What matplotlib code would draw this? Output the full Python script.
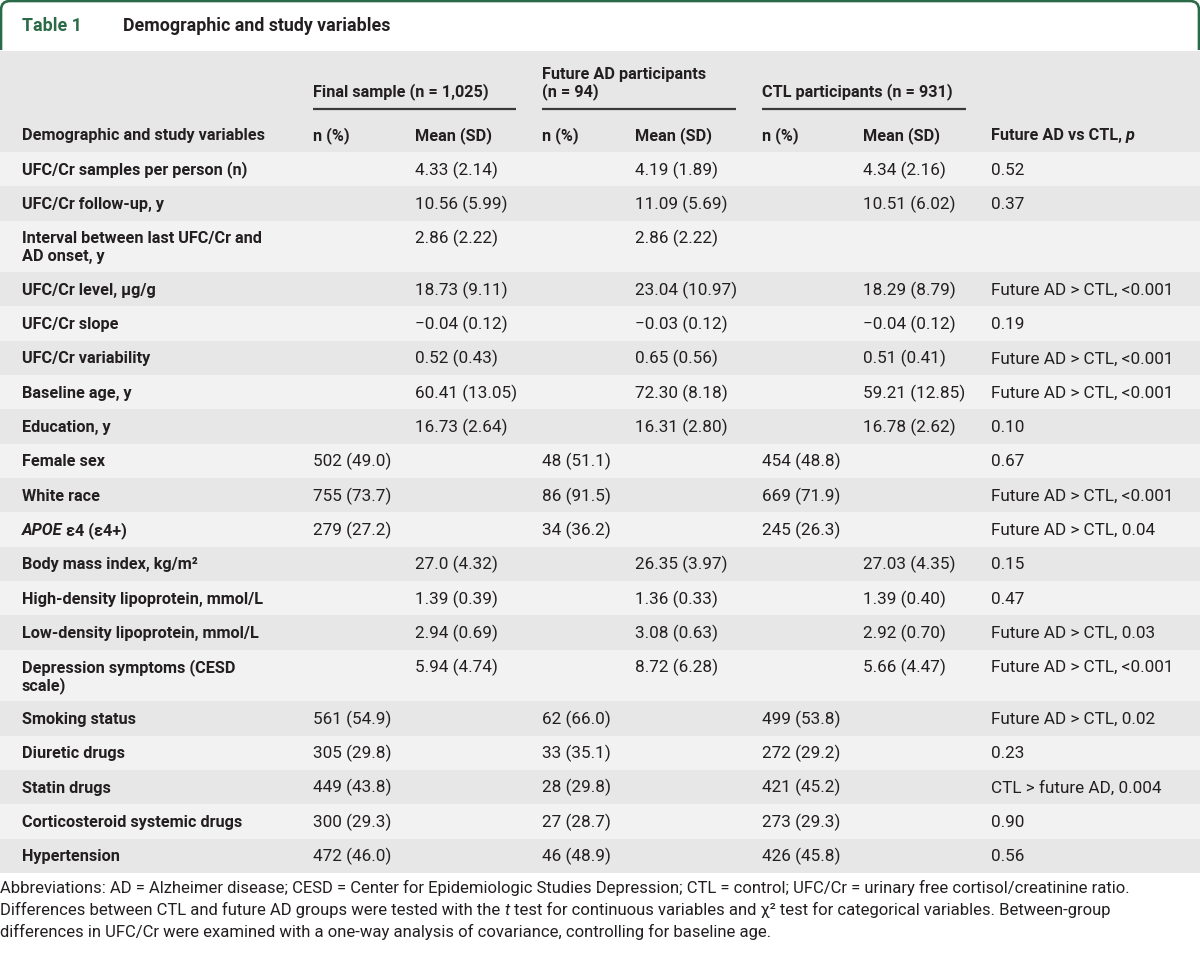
import matplotlib
matplotlib.use("Agg")
import matplotlib.pyplot as plt
from matplotlib.patches import Rectangle, PathPatch
from matplotlib.path import Path

# ---------------- data ----------------
title_num = "Table 1"
title_text = "Demographic and study variables"

group_headers = ["Final sample (n = 1,025)", "Future AD participants\n(n = 94)", "CTL participants (n = 931)"]
col_headers = ["Demographic and study variables", "n (%)", "Mean (SD)", "n (%)", "Mean (SD)",
               "n (%)", "Mean (SD)", "Future AD vs CTL, *p*"]

labels = ["UFC/Cr samples per person (n)", "UFC/Cr follow-up, y",
          "Interval between last UFC/Cr and\nAD onset, y", "UFC/Cr level, μg/g",
          "UFC/Cr slope", "UFC/Cr variability", "Baseline age, y", "Education, y",
          "Female sex", "White race", "*APOE* ε4 (ε4+)", "Body mass index, kg/m²",
          "High-density lipoprotein, mmol/L", "Low-density lipoprotein, mmol/L",
          "Depression symptoms (CESD\nscale)", "Smoking status", "Diuretic drugs",
          "Statin drugs", "Corticosteroid systemic drugs", "Hypertension"]

final_n = ["", "", "", "", "", "", "", "", "502 (49.0)", "755 (73.7)", "279 (27.2)", "", "", "", "",
           "561 (54.9)", "305 (29.8)", "449 (43.8)", "300 (29.3)", "472 (46.0)"]
final_mean = ["4.33 (2.14)", "10.56 (5.99)", "2.86 (2.22)", "18.73 (9.11)", "\u22120.04 (0.12)",
              "0.52 (0.43)", "60.41 (13.05)", "16.73 (2.64)", "", "", "", "27.0 (4.32)",
              "1.39 (0.39)", "2.94 (0.69)", "5.94 (4.74)", "", "", "", "", ""]
ad_n = ["", "", "", "", "", "", "", "", "48 (51.1)", "86 (91.5)", "34 (36.2)", "", "", "", "",
        "62 (66.0)", "33 (35.1)", "28 (29.8)", "27 (28.7)", "46 (48.9)"]
ad_mean = ["4.19 (1.89)", "11.09 (5.69)", "2.86 (2.22)", "23.04 (10.97)", "\u22120.03 (0.12)",
           "0.65 (0.56)", "72.30 (8.18)", "16.31 (2.80)", "", "", "", "26.35 (3.97)",
           "1.36 (0.33)", "3.08 (0.63)", "8.72 (6.28)", "", "", "", "", ""]
ctl_n = ["", "", "", "", "", "", "", "", "454 (48.8)", "669 (71.9)", "245 (26.3)", "", "", "", "",
         "499 (53.8)", "272 (29.2)", "421 (45.2)", "273 (29.3)", "426 (45.8)"]
ctl_mean = ["4.34 (2.16)", "10.51 (6.02)", "", "18.29 (8.79)", "\u22120.04 (0.12)",
            "0.51 (0.41)", "59.21 (12.85)", "16.78 (2.62)", "", "", "", "27.03 (4.35)",
            "1.39 (0.40)", "2.92 (0.70)", "5.66 (4.47)", "", "", "", "", ""]
p_values = ["0.52", "0.37", "", "Future AD > CTL, <0.001", "0.19", "Future AD > CTL, <0.001",
            "Future AD > CTL, <0.001", "0.10", "0.67", "Future AD > CTL, <0.001",
            "Future AD > CTL, 0.04", "0.15", "0.47", "Future AD > CTL, 0.03",
            "Future AD > CTL, <0.001", "Future AD > CTL, 0.02", "0.23",
            "CTL > future AD, 0.004", "0.90", "0.56"]

footnotes = [
    "Abbreviations: AD = Alzheimer disease; CESD = Center for Epidemiologic Studies Depression; CTL = control; UFC/Cr = urinary free cortisol/creatinine ratio.",
    "Differences between CTL and future AD groups were tested with the *t* test for continuous variables and χ² test for categorical variables. Between-group",
    "differences in UFC/Cr were examined with a one-way analysis of covariance, controlling for baseline age.",
]

# ---------------- style / layout ----------------
FAM = ["Roboto", "DejaVu Sans"]
TXT = "#231f20"
GREEN = "#2b6a47"
GRAY = "#e6e7e6"
LIGHT = "#f2f2f2"
FS_BOLD = 11.7
FS_REG = 12.3
FS_TITLE = 12.8
FS_FOOT = 12.0
W, H = 1200, 955

col_x = [22, 313, 415, 542, 635, 762, 863, 991]
group_x = [(313, 516), (542, 736), (762, 966)]
header_top, header_bot = 51, 152
unit_h = 34.33
line_gap = 18
cap_half = 5.5

fig = plt.figure(figsize=(12, 9.55), dpi=100)
ax = fig.add_axes([0, 0, 1, 1])
ax.set_xlim(0, W)
ax.set_ylim(H, 0)
ax.axis("off")
renderer = fig.canvas.get_renderer()


def rich(x, yb, s, size=FS_REG, weight="normal", color=TXT):
    parts = s.split("*")
    for i, seg in enumerate(parts):
        if not seg:
            continue
        t = ax.text(x, yb, seg, fontsize=size, fontweight=weight, color=color,
                    style="italic" if i % 2 == 1 else "normal", family=FAM,
                    va="baseline", ha="left")
        bb = t.get_window_extent(renderer)
        x += bb.width


# title tab
r = 9
verts = [(1, 50), (1, 1 + r), (1, 1), (1 + r, 1), (W - 1 - r, 1), (W - 1, 1), (W - 1, 1 + r), (W - 1, 50)]
codes = [Path.MOVETO, Path.LINETO, Path.CURVE3, Path.CURVE3, Path.LINETO, Path.CURVE3, Path.CURVE3, Path.LINETO]
ax.add_patch(PathPatch(Path(verts, codes), facecolor="white", edgecolor=GREEN, lw=1.9))
ax.text(22, 25 + 6, title_num, fontsize=FS_TITLE, fontweight="bold", color=GREEN,
        family=FAM, va="baseline")
ax.text(123, 25 + 6, title_text, fontsize=FS_TITLE, fontweight="bold", color=TXT,
        family=FAM, va="baseline")

# header band
ax.add_patch(Rectangle((0, header_top), W, header_bot - header_top, facecolor=GRAY, edgecolor="none"))
for (x0, x1), g in zip(group_x, group_headers):
    lines = g.split("\n")
    ys = [91] if len(lines) == 1 else [73, 91]
    for ln, yy in zip(lines, ys):
        rich(x0, yy + cap_half, ln, size=FS_BOLD, weight="bold")
    ax.plot([x0, x1], [109, 109], color="#3a3a3a", lw=1.6, solid_capstyle="butt")
for cx, h in zip(col_x, col_headers):
    rich(cx, 134.5 + cap_half, h, size=FS_BOLD, weight="bold")

# body rows
y = header_bot
cols = [final_n, final_mean, ad_n, ad_mean, ctl_n, ctl_mean, p_values]
for i, lab in enumerate(labels):
    lines = lab.split("\n")
    h = unit_h * (1.5 if len(lines) > 1 else 1)
    ax.add_patch(Rectangle((0, y), W, h, facecolor=LIGHT if i % 2 == 0 else GRAY, edgecolor="none"))
    cy = y + h / 2
    first = cy - line_gap * (len(lines) - 1) / 2
    for k, ln in enumerate(lines):
        rich(col_x[0], first + k * line_gap + cap_half, ln, size=FS_BOLD, weight="bold")
    for cx, col in zip(col_x[1:], cols):
        if col[i]:
            rich(cx, first + cap_half, col[i])
    y += h

# footnotes
for k, ln in enumerate(footnotes):
    rich(0, 887 + k * 22 + cap_half, ln, size=FS_FOOT)

fig.savefig("out.png", dpi=100)
